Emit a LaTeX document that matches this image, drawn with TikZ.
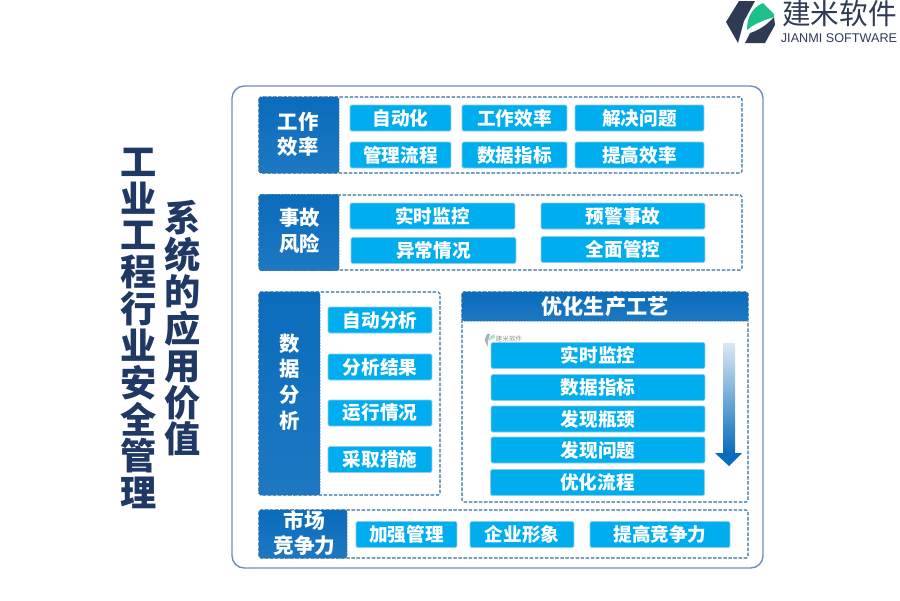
\documentclass[tikz,border=0pt]{standalone}
\usepackage{fontspec}
\setmainfont{Noto Sans CJK SC}
\newfontfamily\logofont{Liberation Sans}
\definecolor{framecol}{HTML}{6F8DB5}
\definecolor{dashcol}{HTML}{2F6F9F}
\definecolor{headcol}{HTML}{0A6CBC}
\definecolor{itemcol}{HTML}{00AEEF}
\definecolor{itemedge}{HTML}{8CCDEA}
\definecolor{titlecol}{HTML}{1F3864}
\definecolor{logodark}{HTML}{2F3A55}
\definecolor{logogreen}{HTML}{1DBF8A}
\tikzset{
  groupbox/.style={draw=dashcol,line width=0.6pt,dash pattern=on 2pt off 0.9pt,rounded corners=1pt},
  headbox/.style={draw=dashcol,line width=0.5pt,dash pattern=on 1.2pt off 0.6pt,rounded corners=1pt,top color=headcol,bottom color=headcol!92!white,
    text=white,font=\bfseries\fontsize{11.6}{14.2}\selectfont,align=center,inner sep=0pt,minimum height=1.52cm},
  headtext/.style={text=white,font=\bfseries\fontsize{11.6}{14.7}\selectfont,align=center,inner sep=0pt},
  itembox/.style={draw=itemedge,line width=0.5pt,rounded corners=0.8pt,fill=itemcol,text=white,
    font=\bfseries\fontsize{10.6}{12}\selectfont,inner sep=0pt,minimum height=0.52cm},
  titletext/.style={text=titlecol,font=\bfseries\fontsize{20.6}{20.97}\selectfont,align=center,inner sep=0pt}
}
\begin{document}
\begin{tikzpicture}[x=0.02cm,y=-0.02cm]
\useasboundingbox (0,0) rectangle (900,600);
% logo
\fill[logodark] (739,1)--(755,1)--(744,21)--(738,43)--(726,22)--cycle;
\fill[logodark] (745,43)--(765,43)--(775,25)--(774,17) .. controls (766,26) and (757,31) .. (750,33)--cycle;
\fill[logogreen] (747,30) .. controls (747,17) and (752,8) .. (763,3)--(774,14)--(774,17) .. controls (765,20) and (755,23) .. (747,30)--cycle;
\node[text=logodark,font=\fontsize{16.3}{17}\selectfont,inner sep=0pt] (logoname) at (839.5,14) {建米软件};
\node[text=logodark,font=\logofont\fontsize{7.2}{8}\selectfont,inner sep=0pt] (logosub) at (839,38) {JIANMI SOFTWARE};
% title
\node[titletext] (titleone) at (139,328.5) {工\\业\\工\\程\\行\\业\\安\\全\\管\\理};
\node[titletext] (titletwo) at (183,328.5) {系\\统\\的\\应\\用\\价\\值};
% frame
\draw[framecol,line width=0.8pt,rounded corners=7pt] (232,86) rectangle (763,568);
% first group
\draw[groupbox] (259,97) rectangle (742,173);
\node[headbox,minimum width=1.6cm] (work) at (299,135) {};
\node[headtext,font=\bfseries\fontsize{11.6}{14.2}\selectfont] (worktext) at (298,134) {工作\\效率};
\node[itembox,minimum width=2.02cm] (autom) at (400.5,118) {自动化};
\node[itembox,minimum width=2.10cm] (effic) at (514.5,118) {工作效率};
\node[itembox,minimum width=2.58cm] (solve) at (639.5,118) {解决问题};
\node[itembox,minimum width=2.02cm] (flow) at (400.5,155) {管理流程};
\node[itembox,minimum width=2.10cm] (index) at (514.5,155) {数据指标};
\node[itembox,minimum width=2.58cm] (raise) at (639.5,155) {提高效率};
% second group
\draw[groupbox] (259,195) rectangle (742,270);
\node[headbox,minimum width=1.6cm] (risk) at (299,232.5) {};
\node[headtext] (risktext) at (299.5,231) {事故\\风险};
\node[itembox,minimum width=3.30cm] (watch) at (432.5,216) {实时监控};
\node[itembox,minimum width=3.28cm] (warn) at (623,216) {预警事故};
\node[itembox,minimum width=3.30cm] (odd) at (433.5,250.5) {异常情况};
\node[itembox,minimum width=3.28cm] (total) at (623,249.5) {全面管控};
% third group
\draw[groupbox] (259,292) rectangle (440,495);
\node[headbox,minimum width=1.22cm,minimum height=4.06cm] (data) at (289.5,393.5) {};
\node[headtext] (datatext) at (289.5,382) {数\\据\\分\\析};
\node[itembox,minimum width=2.08cm] (auto) at (380,320) {自动分析};
\node[itembox,minimum width=2.08cm] (result) at (380,367) {分析结果};
\node[itembox,minimum width=2.08cm] (state) at (380,413) {运行情况};
\node[itembox,minimum width=2.08cm] (act) at (380,459.5) {采取措施};
% fourth group
\draw[groupbox] (462,292) rectangle (748,502);
\node[headbox,minimum width=5.72cm,minimum height=0.58cm,font=\bfseries\fontsize{12}{14}\selectfont] (craft) at (605,306.5) {优化生产工艺};
\fill[logodark!40] (487,334)--(490,334)--(488,341)--(488,347)--(484.5,340)--cycle;
\fill[logogreen!40] (489,341) .. controls (489,337) and (491,335) .. (494,334)--(495,338) .. controls (492,338) and (490,340) .. (489,341)--cycle;
\node[text=black!40,font=\fontsize{3.8}{4}\selectfont,inner sep=0pt] (marktext) at (509,339) {建米软件};
\node[itembox,minimum width=4.28cm] (live) at (598,355.5) {实时监控};
\node[itembox,minimum width=4.28cm] (figs) at (598,387.5) {数据指标};
\node[itembox,minimum width=4.28cm] (neck) at (598,419) {发现瓶颈};
\node[itembox,minimum width=4.28cm] (issue) at (598,450) {发现问题};
\node[itembox,minimum width=4.28cm] (better) at (597.5,482.5) {优化流程};
% gradient arrow
\shade[top color=headcol!15!white,bottom color=headcol] (723,343)--(735,343)--(735,453)--(723,453)--cycle;
\fill[headcol] (715,453)--(742,453)--(729,466)--cycle;
% fifth group
\draw[groupbox] (259,510) rectangle (748,558);
\node[headbox,minimum width=1.76cm,minimum height=0.96cm] (market) at (303,534) {};
\node[headtext,font=\bfseries\fontsize{11.8}{14.2}\selectfont] (markettext) at (304.5,533) {市场\\竞争力};
\node[itembox,minimum width=2.02cm] (manage) at (406.5,534.5) {加强管理};
\node[itembox,minimum width=2.08cm] (image) at (522,534.5) {企业形象};
\node[itembox,minimum width=2.80cm] (compete) at (660,534.5) {提高竞争力};
\end{tikzpicture}
\end{document}
